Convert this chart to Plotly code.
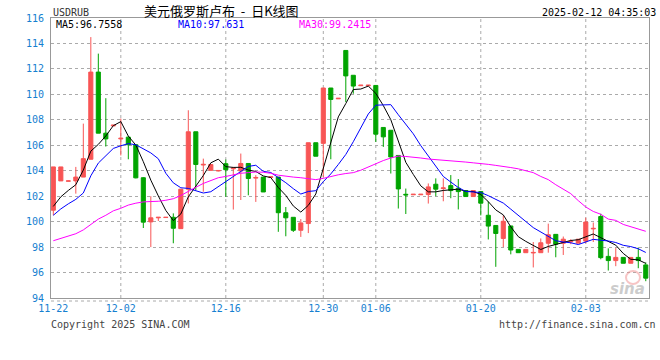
import plotly.graph_objects as go

# ---------------- data ----------------
idx = list(range(80))

open_ = [100.9, 103.2, 103.18, 103.2, 103.5, 104.9, 111.75, 106.95, 107.52, 106.5,
         106.64, 106.04, 103.45, 99.98, 100.3, 100.32, 100.34, 99.45, 102.55, 107.06,
         104.45, 104.03, 103.98, 104.55, 104.15, 103.98, 104.57, 103.42, 103.5, 103.48,
         103.5, 100.7, 100.34, 99.32, 99.85, 106.2, 106.15, 110.5, 109.65, 113.45,
         111.5, 110.68, 110.68, 110.7, 107.4, 107.18, 105.2, 102.15, 102.11, 102.11,
         102.13, 102.94, 102.6, 102.83, 102.62, 102.44, 101.97, 102.36, 100.5, 99.7,
         98.68, 99.66, 97.82, 97.56, 97.54, 97.56, 98.3, 99.0, 98.3, 98.42,
         98.31, 98.47, 99.43, 100.4, 97.27, 96.94, 97.19, 96.73, 97.19, 96.6]

high = [104.3, 104.3, 103.22, 104.3, 107.7, 114.5, 113.2, 109.7, 107.6, 108.1,
        106.7, 106.1, 103.5, 102.0, 100.34, 100.34, 100.65, 102.55, 108.75, 107.06,
        104.95, 104.5, 104.05, 104.88, 104.3, 105.35, 104.57, 103.65, 103.5, 103.52,
        103.5, 101.15, 100.34, 100.2, 106.2, 106.2, 110.5, 110.5, 109.7, 113.45,
        111.5, 110.72, 110.72, 110.7, 107.4, 107.18, 105.2, 102.6, 102.15, 102.15,
        103.0, 103.4, 103.4, 103.66, 103.35, 102.44, 102.44, 102.4, 101.6, 99.7,
        100.5, 99.66, 97.82, 97.82, 98.4, 98.68, 99.84, 99.0, 98.83, 98.62,
        98.62, 100.31, 99.93, 100.62, 97.9, 97.92, 97.19, 97.19, 97.97, 96.8]

low = [100.5, 103.2, 103.18, 102.2, 103.5, 104.9, 106.95, 105.9, 107.52, 105.2,
       104.9, 103.4, 99.5, 98.0, 100.05, 100.32, 98.3, 99.45, 101.43, 102.47,
       102.35, 104.0, 103.95, 101.95, 100.95, 101.7, 102.07, 101.55, 102.33, 103.48,
       99.2, 98.85, 99.19, 98.8, 99.1, 105.14, 103.5, 104.9, 109.65, 109.4,
       110.05, 110.68, 110.68, 106.26, 105.87, 103.78, 101.03, 100.6, 102.11, 102.11,
       101.42, 102.0, 101.6, 101.84, 100.96, 101.97, 101.97, 100.49, 98.6, 96.45,
       98.0, 97.43, 97.56, 97.56, 96.4, 97.56, 97.56, 97.2, 97.38, 98.23,
       98.31, 98.3, 98.4, 97.04, 96.16, 96.5, 96.73, 96.73, 96.34, 95.32]

close = [104.3, 104.3, 103.2, 103.5, 104.95, 111.75, 106.95, 106.5, 107.58, 106.55,
         106.04, 103.44, 99.96, 100.3, 100.34, 100.34, 99.48, 102.55, 107.06, 104.49,
         104.5, 104.49, 104.02, 104.08, 104.2, 104.57, 103.39, 103.47, 102.33, 103.52,
         100.7, 100.3, 99.32, 99.9, 106.2, 105.14, 110.5, 109.6, 109.69, 111.45,
         110.65, 110.72, 110.72, 106.87, 106.66, 105.08, 102.57, 102.1, 102.15, 102.15,
         102.73, 102.55, 102.65, 102.44, 102.36, 101.97, 102.44, 101.45, 99.65, 99.07,
         100.03, 97.77, 97.56, 97.82, 97.58, 98.34, 98.97, 98.23, 98.62, 98.46,
         98.62, 99.97, 99.47, 97.17, 96.94, 97.19, 96.73, 97.19, 96.94, 95.56]

ma5 = [101.2, 101.95, 102.45, 102.9, 104.05, 105.54, 106.07, 106.73, 107.54, 107.86,
       106.72, 106.02, 104.71, 103.26, 102.02, 100.88, 100.08, 100.6, 101.95, 102.78,
       103.62, 104.62, 104.91, 104.32, 104.26, 104.27, 104.05, 103.94, 103.59, 103.46,
       102.68, 102.06, 101.23, 100.75, 101.28, 102.17, 104.21, 106.27, 108.23, 109.28,
       110.38, 110.42, 110.65, 110.08, 109.12, 108.01, 106.38, 104.66, 103.71, 102.81,
       102.34, 102.34, 102.45, 102.50, 102.55, 102.39, 102.37, 102.13, 101.57, 100.92,
       100.53, 99.59, 98.82, 98.45, 98.15, 97.81, 98.05, 98.19, 98.35, 98.52,
       98.58, 98.78, 99.03, 98.74, 98.43, 98.15, 97.5, 97.04, 97.0, 96.72]

ma10 = [100.5, 101.0, 101.4, 101.75, 102.25, 103.6, 104.6, 105.2, 105.75, 105.96,
        106.13, 106.04, 105.72, 105.40, 104.94, 103.80, 103.05, 102.66, 102.61, 102.40,
        102.25, 102.35, 102.76, 103.14, 103.52, 103.94, 104.34, 104.43, 103.95, 103.86,
        103.48, 103.06, 102.59, 102.17, 102.37, 102.43, 103.14, 103.75, 104.49, 105.28,
        106.28, 107.32, 108.46, 109.15, 109.2, 109.19, 108.40, 107.65, 106.90, 105.97,
        105.18, 104.36, 103.55, 103.11, 102.68, 102.37, 102.35, 102.29, 102.04, 101.73,
        101.46, 100.98, 100.47, 100.01, 99.53, 99.17, 98.82, 98.50, 98.40, 98.34,
        98.20, 98.42, 98.61, 98.54, 98.48, 98.36, 98.14, 98.04, 97.87, 97.58]

ma30 = [98.5, 98.7, 98.88, 99.05, 99.35, 99.8, 100.2, 100.5, 100.85, 101.05,
        101.3, 101.45, 101.55, 101.58, 101.6, 101.68, 101.8, 102.05, 102.4, 102.7,
        103.0, 103.25, 103.45, 103.55, 103.7, 103.8, 103.85, 103.9, 103.88, 103.8,
        103.65, 103.55, 103.5, 103.45, 103.38, 103.3, 103.4, 103.55, 103.68, 103.78,
        103.85, 104.04, 104.3, 104.55, 104.8, 105.0, 105.15, 105.12, 105.08, 105.0,
        104.92, 104.88, 104.85, 104.8, 104.72, 104.68, 104.62, 104.58, 104.5, 104.42,
        104.35, 104.25, 104.15, 104.02, 103.85, 103.55, 103.3, 102.9, 102.55, 102.2,
        101.65, 101.15, 100.8, 100.58, 100.2, 100.1, 99.78, 99.6, 99.42, 99.24]

tick_idx = [0, 9, 23, 36, 43, 57, 71]
tick_labels = ["11-22", "12-02", "12-16", "12-30", "01-06", "01-20", "02-03"]

ma_names = ["MA5", "MA10", "MA30"]
ma_last = ["96.7558", "97.631", "99.2415"]

symbol = "USDRUB"
title = "美元俄罗斯卢布\u00a0\u00a0-\u00a0\u00a0日K线图"
stamp = "2025-02-12 04:35:03"

# ---------------- styling ----------------
RED = "#f85555"
GREEN = "#00a400"
BLUE_TXT = "#1580d0"
MONO = "DejaVu Sans Mono"
L, R, T, B = 51, 11, 18, 62
W, H = 660, 360
PW, PH = W - L - R, H - T - B


def px(x):
    return (x - L) / PW


def py(y):
    return (H - B - y) / PH


fig = go.Figure()
fig.add_trace(go.Candlestick(
    x=idx, open=open_, high=high, low=low, close=close,
    increasing=dict(line=dict(color=RED, width=1), fillcolor=RED),
    decreasing=dict(line=dict(color=GREEN, width=1), fillcolor=GREEN),
    whiskerwidth=0, hoverinfo="skip", showlegend=False))

ma_colors = ["#000000", "#0000ff", "#ff00ff"]
for vals, col in zip([ma5, ma10, ma30], ma_colors):
    fig.add_trace(go.Scatter(x=idx, y=vals, mode="lines",
                             line=dict(color=col, width=1),
                             hoverinfo="skip", showlegend=False))

shapes = []
for t in tick_idx[1:]:
    shapes.append(dict(type="line", xref="x", yref="paper", x0=t, x1=t, y0=0, y1=1,
                       line=dict(color="#aaaaaa", width=1, dash="dot"), layer="below"))
shapes.append(dict(type="line", xref="paper", yref="paper", x0=0, x1=1,
                   y0=py(301), y1=py(301),
                   line=dict(color="#aaaaaa", width=1, dash="dot")))
# faint watermark swirl of the sina logo
shapes.append(dict(type="circle", xref="paper", yref="paper",
                   x0=px(626), x1=px(640), y0=py(284), y1=py(271),
                   line=dict(color="rgba(240,150,150,0.55)", width=2)))

ann = []


def add_text(text, x, y, anchor, size, color, family=MONO):
    ann.append(dict(text=text, x=px(x), y=py(y), xref="paper", yref="paper",
                    xanchor=anchor, yanchor="middle", showarrow=False, borderpad=0,
                    font=dict(family=family, size=size, color=color)))


add_text(symbol, 52, 12, "left", 10, "#333333")
add_text(title, 221, 10, "center", 13, "#000000", "Noto Sans CJK SC")
add_text(stamp, 657, 12, "right", 10, "#000000")
for name, val, col, xl in zip(ma_names, ma_last, ma_colors, [55, 177, 298]):
    add_text(f"{name}:{val}", xl, 24, "left", 10, col)
add_text("Copyright 2025 SINA.COM", 50, 324, "left", 10, "#444444")
add_text("http://finance.sina.com.cn", 657, 324, "right", 10, "#444444")
add_text("<i><b>sina</b></i>", 627, 289, "center", 15, "rgba(195,195,195,0.85)",
         "DejaVu Sans")

fig.update_layout(
    width=W, height=H, margin=dict(l=L, r=R, t=T, b=B),
    paper_bgcolor="white", plot_bgcolor="white", showlegend=False,
    boxgap=0.22,
    xaxis=dict(range=[-0.31, 79.43], tickmode="array", tickvals=tick_idx,
               ticktext=tick_labels, showgrid=False, zeroline=False,
               showline=True, mirror=True, linecolor="#999999", linewidth=1,
               ticks="", ticklabelstandoff=1,
               tickfont=dict(family=MONO, size=10, color=BLUE_TXT),
               rangeslider=dict(visible=False), fixedrange=True),
    yaxis=dict(range=[94, 116], tick0=94, dtick=2, showgrid=True,
               gridcolor="#aaaaaa", griddash="dot", gridwidth=1, zeroline=False,
               showline=True, mirror=True, linecolor="#999999", linewidth=1,
               ticks="", ticklabelstandoff=4,
               tickfont=dict(family=MONO, size=10, color=BLUE_TXT), fixedrange=True),
    shapes=shapes, annotations=ann,
)

fig.write_html("out.html", config={"displayModeBar": False},
               post_script="document.body.style.margin='0';document.body.style.padding='0';")
